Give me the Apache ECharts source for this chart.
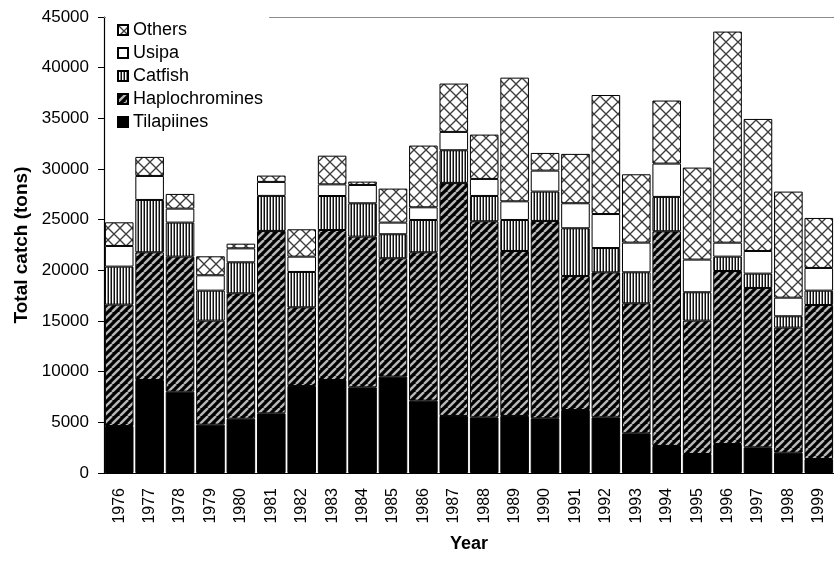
<!DOCTYPE html>
<html>
<head>
<meta charset="utf-8">
<title>Total catch by group, 1976–1999</title>
<script src="https://cdn.jsdelivr.net/npm/echarts@6/dist/echarts.min.js"></script>
<style>
  html, body { margin: 0; padding: 0; background: #fff; overflow: hidden; }
  #chart { width: 834px; height: 561px; }
</style>
</head>
<body>
<div id="chart"></div>
<script>
// Annual catch (tons) per species group
const years = ['1976','1977','1978','1979','1980','1981','1982','1983','1984','1985','1986','1987',
               '1988','1989','1990','1991','1992','1993','1994','1995','1996','1997','1998','1999'];
const tilapiines     = [4640, 9180, 8030, 4770, 5360, 5890, 8590, 9180, 8455, 9510, 7140, 5630,
                        5490, 5630, 5400, 6220, 5490, 3915, 2665, 1875, 2860, 2535, 2005, 1380];
const haplochromines = [11975, 12600, 13320, 10265, 12370, 18000, 7760, 14800, 14870, 11680, 14640, 23000,
                        19350, 16280, 19475, 13225, 14310, 12830, 21190, 13160, 17075, 15725, 12340, 15200];
const catfish        = [3750, 5165, 3360, 2960, 3060, 3455, 3490, 3355, 3290, 2370, 3190, 3220,
                        2500, 3060, 2895, 4705, 2400, 3060, 3390, 2800, 1415, 1415, 1120, 1415];
const usipa          = [2040, 2370, 1380, 1515, 1380, 1380, 1510, 1150, 1810, 1150, 1250, 1810,
                        1680, 1840, 2070, 2470, 3355, 2930, 3290, 3225, 1380, 2235, 1840, 2240];
const others         = [2335, 1880, 1450, 1875, 460, 625, 2700, 2830, 330, 3355, 6090, 4770,
                        4375, 12205, 1745, 4870, 11745, 6745, 6220, 9080, 20830, 13030, 10465, 4935];
const yTicks = { min: 0, max: 45000, interval: 5000 };

// Fill patterns (monochrome hatching)
function makeTile(w, h, draw) {
  const c = document.createElement('canvas');
  c.width = w; c.height = h;
  draw(c.getContext('2d'), w, h);
  return c;
}
const diagTile = makeTile(8, 8, (g, w, h) => {
  g.fillStyle = '#000'; g.fillRect(0, 0, w, h);
  g.strokeStyle = '#b8b8b8'; g.lineWidth = 2.4;
  for (const o of [-w, 0, w]) {
    g.beginPath(); g.moveTo(o, h); g.lineTo(o + w, 0); g.stroke();
  }
});
const vertTile = makeTile(3, 4, (g, w, h) => {
  g.fillStyle = '#fff'; g.fillRect(0, 0, w, h);
  g.fillStyle = '#111'; g.fillRect(0, 0, 1, h);
  g.fillStyle = '#8a8a8a'; g.fillRect(2, 0, 1, h);
});
const crossTile = makeTile(12, 12, (g, w, h) => {
  g.fillStyle = '#fff'; g.fillRect(0, 0, w, h);
  g.strokeStyle = '#3c3c3c'; g.lineWidth = 1.3;
  g.beginPath(); g.moveTo(0, 0); g.lineTo(w, h); g.stroke();
  g.beginPath(); g.moveTo(w, 0); g.lineTo(0, h); g.stroke();
});

const font = 'Arial, "Liberation Sans", sans-serif';
const border = { borderColor: '#000', borderWidth: 1 };

function bar(name, data, color) {
  return {
    name, type: 'bar', stack: 'catch', data,
    barCategoryGap: '6%',
    itemStyle: Object.assign({ color }, border),
    emphasis: { disabled: true }
  };
}

const chart = echarts.init(document.getElementById('chart'), null, { renderer: 'canvas' });
chart.setOption({
  animation: false,
  backgroundColor: '#fff',
  textStyle: { fontFamily: font, color: '#000' },
  grid: { left: 104, top: 17, width: 736, height: 456, show: false },
  legend: {
    orient: 'vertical', left: 106, top: 14,
    padding: [7, 6, 7, 11], itemGap: 5, itemTextGap: 6,
    itemWidth: 10, itemHeight: 10, icon: 'rect',
    backgroundColor: '#fff',
    textStyle: { fontFamily: font, fontSize: 18, color: '#000' },
    data: ['Others', 'Usipa', 'Catfish', 'Haplochromines', 'Tilapiines']
  },
  xAxis: [{
    type: 'category', data: years,
    name: 'Year', nameLocation: 'middle', nameGap: 62,
    nameTextStyle: { fontFamily: font, fontSize: 18, fontWeight: 'bold', color: '#000' },
    axisLine: { lineStyle: { color: '#000', width: 1 } },
    axisTick: { length: 5, lineStyle: { color: '#000' } },
    axisLabel: { rotate: 90, margin: 15, fontSize: 16, fontFamily: font, color: '#000', interval: 0 },
    splitLine: { show: false }
  }, {
    // plot-area top edge
    type: 'category', data: years, position: 'top',
    axisLine: { show: true, lineStyle: { color: '#8c8c8c', width: 1 } },
    axisTick: { show: false }, axisLabel: { show: false }, splitLine: { show: false }
  }],
  yAxis: {
    type: 'value', min: yTicks.min, max: yTicks.max, interval: yTicks.interval,
    position: 'left',
    name: 'Total catch (tons)', nameLocation: 'middle', nameGap: 71, nameRotate: 90,
    nameTextStyle: { fontFamily: font, fontSize: 19, fontWeight: 'bold', color: '#000' },
    axisLine: { show: true, onZero: false, lineStyle: { color: '#000', width: 1.2 } },
    axisTick: { show: true, length: 6, lineStyle: { color: '#000' } },
    axisLabel: { margin: 15, fontSize: 17, fontFamily: font, color: '#000',
                 formatter: v => String(v) },
    splitLine: { show: false }
  },
  series: [
    bar('Tilapiines', tilapiines, '#000'),
    bar('Haplochromines', haplochromines, { image: diagTile, repeat: 'repeat' }),
    bar('Catfish', catfish, { image: vertTile, repeat: 'repeat' }),
    bar('Usipa', usipa, '#fff'),
    bar('Others', others, { image: crossTile, repeat: 'repeat' })
  ]
});
</script>
</body>
</html>
